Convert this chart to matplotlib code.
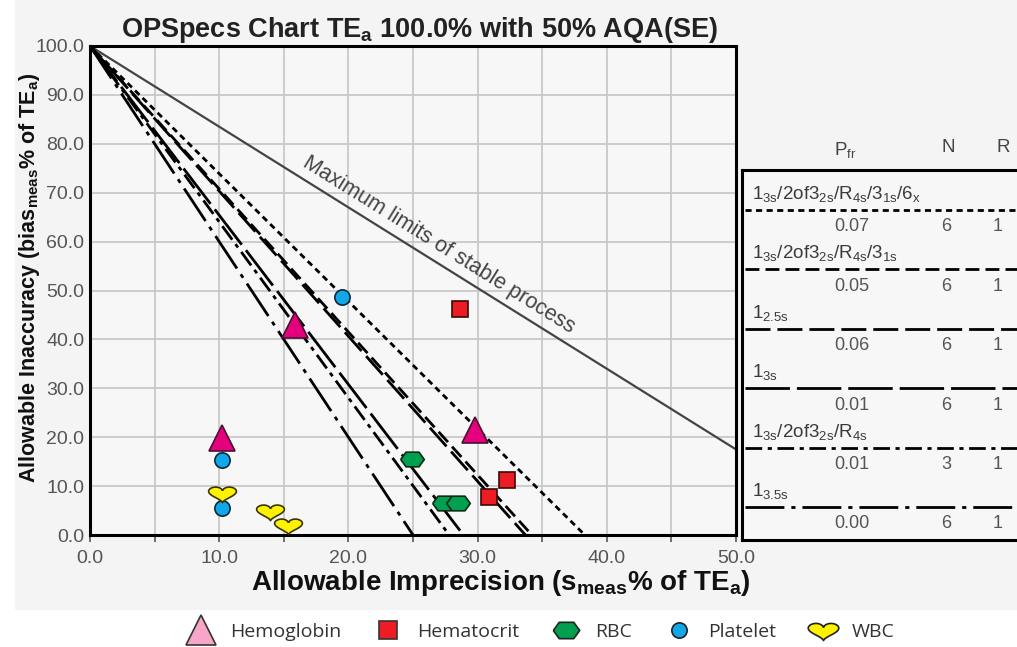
import numpy as np
import matplotlib
matplotlib.use("Agg")
import matplotlib.pyplot as plt
from matplotlib.lines import Line2D
from matplotlib.patches import Rectangle

# OPSpecs chart, TEa 100 %, 50 % AQA(SE), with analyte operating points
# and the rule table on the right.

plt.rcParams["font.family"] = ["Liberation Sans", "DejaVu Sans"]
plt.rcParams["mathtext.default"] = "regular"

# operating lines: x-intercept of each control rule line (bias=100 at s=0)
rule_labels = [
    r"$1_{3s}/2of3_{2s}/R_{4s}/3_{1s}/6_{x}$",
    r"$1_{3s}/2of3_{2s}/R_{4s}/3_{1s}$",
    r"$1_{2.5s}$",
    r"$1_{3s}$",
    r"$1_{3s}/2of3_{2s}/R_{4s}$",
    r"$1_{3.5s}$",
]
rule_intercepts = [38.3, 34.2, 33.7, 28.9, 27.8, 25.0]
rule_pfr = ["0.07", "0.05", "0.06", "0.01", "0.01", "0.00"]
rule_n = ["6", "6", "6", "6", "3", "6"]
rule_r = ["1", "1", "1", "1", "1", "1"]

# maximum limits of stable process: bias = TEa - 1.65 s
stable_z = 1.65

# analyte points (s_meas %, bias_meas %)
hgb_x = [15.9, 10.2, 29.8]
hgb_y = [42.9, 19.9, 21.4]
hct_x = [28.6, 30.9, 32.3]
hct_y = [46.3, 7.8, 11.2]
rbc_x = [24.9, 27.4, 28.5]
rbc_y = [15.5, 6.5, 6.6]
plt_x = [19.5, 10.2, 10.2]
plt_y = [48.6, 15.3, 5.6]
wbc_x = [10.2, 13.9, 15.3]
wbc_y = [8.5, 4.9, 2.0]

x_ticks = [0, 10, 20, 30, 40, 50]
y_ticks = [0, 10, 20, 30, 40, 50, 60, 70, 80, 90, 100]

rule_styles = [
    dict(dashes=(2.2, 1.6)),
    dict(dashes=(5, 2.2)),
    dict(dashes=(9, 2.5)),
    dict(dashes=(16, 2.5)),
    dict(dashes=(6, 2, 1.5, 2)),
    dict(dashes=(14, 2.5, 1.5, 2.5)),
]

# marker shapes
t = np.linspace(0, 2 * np.pi, 80)
heart = np.column_stack([16 * np.sin(t) ** 3,
                         0.62 * (13 * np.cos(t) - 5 * np.cos(2 * t)
                                 - 2 * np.cos(3 * t) - np.cos(4 * t))])
hexagon = [(-1, 0), (-0.55, 0.62), (0.55, 0.62), (1, 0),
           (0.55, -0.62), (-0.55, -0.62), (-1, 0)]

W, H = 1017, 647
fig = plt.figure(figsize=(W / 100, H / 100), dpi=100)
fig.patch.set_facecolor("white")
fig.patches.append(Rectangle((15 / W, (H - 610) / H), 1, 1, transform=fig.transFigure,
                             facecolor="#f4f4f4", edgecolor="none", zorder=-10))

ax = fig.add_axes([90 / W, (H - 535) / H, (736 - 90) / W, (535 - 46) / H])
ax.set_facecolor("#f7f7f7")
ax.set_xlim(0, 50)
ax.set_ylim(0, 100)

for v in np.arange(5, 50, 5):
    ax.axvline(v, color="#c9c9c9", lw=1.3, zorder=0)
for v in np.arange(10, 100, 10):
    ax.axhline(v, color="#c9c9c9", lw=1.3, zorder=0)

s_max = np.array([0, 50])
ax.plot(s_max, 100 - stable_z * s_max, color="#444444", lw=1.6, zorder=2)
ax.text(27.0, 59.3, "Maximum limits of stable process", ha="center", va="center",
        rotation=np.degrees(np.arctan(-stable_z)), transform_rotates_text=True,
        rotation_mode="anchor", fontsize=15.5, color="#444444")

for xi, st in zip(rule_intercepts, rule_styles):
    ax.plot([0, xi], [100, 0], color="black", lw=2, solid_capstyle="butt",
            dash_capstyle="butt", zorder=3, **st)

mk = dict(linestyle="none", markeredgewidth=1.2, zorder=5)
ax.plot(hgb_x, hgb_y, marker="^", markersize=19, markerfacecolor="#e5007d",
        markeredgecolor="#4a1030", **mk)
ax.plot(hct_x, hct_y, marker="s", markersize=12, markerfacecolor="#ec1c24",
        markeredgecolor="#3a0a0a", **mk)
ax.plot(rbc_x, rbc_y, marker=hexagon, markersize=17, markerfacecolor="#00a04e",
        markeredgecolor="#0a2a14", **mk)
ax.plot(plt_x, plt_y, marker="o", markersize=11, markerfacecolor="#10a8e8",
        markeredgecolor="#0a2a3a", **mk)
ax.plot(wbc_x, wbc_y, marker=heart, markersize=20, markerfacecolor="#fff200",
        markeredgecolor="#3a3500", **mk)

ax.set_xticks(x_ticks)
ax.set_xticklabels([f"{v:.1f}" for v in x_ticks])
ax.set_xticks(np.arange(5, 50, 10), minor=True)
ax.set_yticks(y_ticks)
ax.set_yticklabels([f"{v:.1f}" for v in y_ticks])
ax.tick_params(axis="x", which="both", direction="out", length=5, width=1.2,
               color="#555555", labelsize=14, labelcolor="#555555", pad=6)
ax.tick_params(axis="y", length=0, labelsize=14, labelcolor="#555555", pad=4)
for sp in ax.spines.values():
    sp.set_linewidth(2.2)

fig.text(420 / W, 1 - 30 / H, r"OPSpecs Chart TE$_a$ 100.0% with 50% AQA(SE)",
         ha="center", va="center", fontsize=19.5, fontweight="bold", color="#222222")
fig.text(501 / W, 1 - 583 / H, r"Allowable Imprecision (s$_{meas}$% of TE$_a$)",
         ha="center", va="center", fontsize=20, fontweight="bold", color="#111111")
fig.text(30 / W, 1 - 278 / H, r"Allowable Inaccuracy (bias$_{meas}$% of TE$_a$)",
         ha="center", va="center", rotation=90, fontsize=15.5, fontweight="bold",
         color="#111111")

# rule table, drawn in pixel-like coordinates
tx = fig.add_axes([742 / W, (H - 540) / H, (1040 - 742) / W, (540 - 170) / H])
tx.set_facecolor("#f7f7f7")
tx.set_xlim(742, 1040)
tx.set_ylim(540, 170)
tx.set_xticks([])
tx.set_yticks([])
for sp in tx.spines.values():
    sp.set_linewidth(2.2)

row_y0, row_dy = 210, 59.4
for i, (lab, st) in enumerate(zip(rule_labels, rule_styles)):
    ly = row_y0 + i * row_dy
    tx.plot([745, 1040], [ly, ly], color="black", lw=2, dash_capstyle="butt", **st)
    tx.text(752, ly - 11, lab, ha="left", va="baseline", fontsize=13.5, color="#3a3a3a")
    tx.text(852, ly + 17, rule_pfr[i], ha="center", va="center", fontsize=13, color="#555555")
    tx.text(946, ly + 17, rule_n[i], ha="center", va="center", fontsize=13, color="#555555")
    tx.text(998, ly + 17, rule_r[i], ha="center", va="center", fontsize=13, color="#555555")

fig.text(845 / W, 1 - 150 / H, r"P$_{fr}$", ha="center", va="center", fontsize=13.5, color="#444444")
fig.text(948 / W, 1 - 147 / H, "N", ha="center", va="center", fontsize=13.5, color="#444444")
fig.text(1003 / W, 1 - 147 / H, "R", ha="center", va="center", fontsize=13.5, color="#444444")

# legend below the chart
handles = [
    Line2D([], [], marker="^", markersize=22, markerfacecolor="#f5a6c9",
           markeredgecolor="#333333", markeredgewidth=1.2, linestyle="none"),
    Line2D([], [], marker="s", markersize=13, markerfacecolor="#ee1c25",
           markeredgecolor="#333333", markeredgewidth=1.2, linestyle="none"),
    Line2D([], [], marker=hexagon, markersize=19, markerfacecolor="#00a04e",
           markeredgecolor="#222222", markeredgewidth=1.2, linestyle="none"),
    Line2D([], [], marker="o", markersize=11, markerfacecolor="#10a8e8",
           markeredgecolor="#222222", markeredgewidth=1.2, linestyle="none"),
    Line2D([], [], marker=heart, markersize=22, markerfacecolor="#fff200",
           markeredgecolor="#222222", markeredgewidth=1.2, linestyle="none"),
]
leg = fig.legend(handles, ["Hemoglobin", "Hematocrit", "RBC", "Platelet", "WBC"],
                 loc="center", bbox_to_anchor=(540 / W, 1 - 632 / H), ncol=5,
                 frameon=False, handlelength=1.6, handletextpad=0.7, columnspacing=1.6,
                 prop={"family": ["Open Sans", "DejaVu Sans"], "size": 14})
for txt in leg.get_texts():
    txt.set_color("#333333")

fig.savefig("out.png", dpi=100)
